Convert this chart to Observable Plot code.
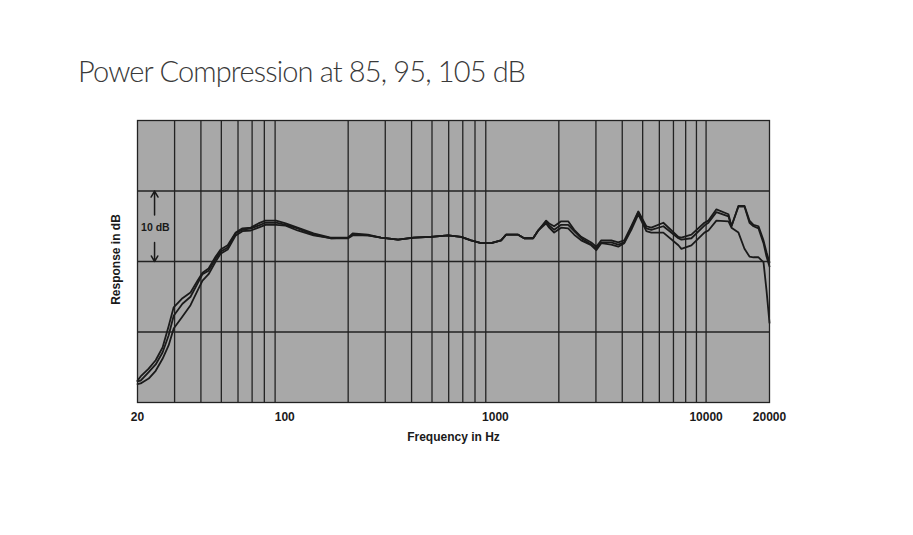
<!DOCTYPE html>
<html><head><meta charset="utf-8">
<script src="https://cdn.jsdelivr.net/npm/d3@7"></script>
<script src="https://cdn.jsdelivr.net/npm/@observablehq/plot@0.6"></script>
<style>
body{margin:0;background:#fff;width:913px;height:535px;overflow:hidden;position:relative;font-family:"Liberation Sans",Arial,sans-serif;}
#title{position:absolute;left:78px;top:56px;font-family:Lato,"Open Sans",sans-serif;font-weight:300;font-size:29px;letter-spacing:-0.85px;color:#3a3a3a;line-height:1;white-space:nowrap;}
#chart{position:absolute;left:0;top:100px;}
</style></head><body>
<div id="title">Power Compression at 85, 95, 105 dB</div>
<div id="chart"></div>
<script>
const titleText = "Power Compression at 85, 95, 105 dB";
const xLabel = "Frequency in Hz";
const yLabel = "Response in dB";
const scaleLabel = "10 dB";

const freq = [20,20.7,22.6,24.4,26.3,28.1,29.7,32.7,35.7,38.6,40.7,43.5,47,49.6,53.6,58.5,63,69,75,81,91,101,115,137,165,200,210,248,286,345,410,494,596,687,766,855,954,1064,1124,1282,1369,1510,1596,1741,1799,1900,2052,2215,2366,2554,2850,3011,3180,3547,3830,4090,4416,4768,5204,5496,6268,7388,7634,8516,9817,10258,11196,12772,13198,14246,15214,16070,16790,17734,18730,19356,20000];

const level85 = [3.1,3.7,4.8,6.0,7.8,10.8,13.5,14.8,15.6,17.3,18.4,19.0,20.7,21.7,22.3,24.1,24.7,24.8,25.4,25.8,25.8,25.4,24.8,24.0,23.4,23.4,24.0,23.8,23.4,23.1,23.4,23.5,23.7,23.5,23.0,22.6,22.6,23.0,23.8,23.8,23.3,23.3,24.4,25.8,25.4,25.0,25.7,25.7,24.5,23.5,22.7,22.1,23.0,23.0,22.7,23.0,25.0,27.1,25.0,24.8,25.5,23.5,23.4,23.8,25.5,25.8,27.4,26.7,25.0,27.9,27.9,25.8,25.2,25.0,23.0,21.3,19.9];
const level95 = [3.0,3.1,4.3,5.4,7.1,9.5,12.3,14.0,15.0,16.9,18.2,18.7,20.4,21.4,22.0,24.0,24.5,24.7,25.1,25.5,25.5,25.2,24.7,23.8,23.3,23.4,23.8,23.7,23.4,23.1,23.4,23.5,23.7,23.5,23.0,22.6,22.6,23.0,23.8,23.8,23.3,23.3,24.4,25.7,25.1,24.5,25.2,25.2,24.3,23.3,22.4,21.8,22.7,22.7,22.4,22.7,24.8,27.0,24.7,24.5,25.0,23.3,23.1,23.3,25.1,25.5,27.0,26.4,25.0,27.8,27.8,25.5,25.0,24.7,22.6,20.7,19.3];
const level105 = [2.6,2.7,3.4,4.5,6.2,8.1,10.5,12.2,13.8,15.9,17.3,18.2,20.0,21.1,21.7,23.7,24.3,24.4,24.8,25.2,25.2,25.1,24.4,23.7,23.3,23.3,23.7,23.7,23.4,23.1,23.4,23.5,23.7,23.5,23.0,22.6,22.6,23.0,23.8,23.8,23.3,23.3,24.4,25.4,24.8,24.1,24.8,24.7,23.8,23.0,22.3,21.6,22.6,22.4,22.1,22.6,24.5,26.7,24.3,24.1,24.1,22.3,21.8,22.3,24.1,24.4,25.8,25.7,24.8,24.1,21.8,20.7,20.6,20.6,19.9,15.9,11.3];

const gridFreqs = [30,40,50,60,70,80,90,200,300,400,500,600,700,800,900,2000,3000,4000,5000,6000,7000,8000,9000,10000];
const gridDb = [10,20,30];
const tickFreqs = [20,100,1000,10000,20000];

const series = [["85 dB", level85], ["95 dB", level95], ["105 dB", level105]];
const rows = series.flatMap(([name, vals]) => freq.map((f, i) => ({f, db: vals[i], name})));

const ink = "#1a1a1a";
const chart = Plot.plot({
  width: 913,
  height: 435,
  marginTop: 20,
  marginBottom: 133,
  marginLeft: 137,
  marginRight: 144,
  style: {fontFamily: "'Liberation Sans', Arial, sans-serif", background: "transparent"},
  x: {type: "log", domain: [20, 20000]},
  y: {domain: [0, 40]},
  marks: [
    Plot.frame({fill: "#a8a8a8", stroke: null}),
    Plot.ruleX(gridFreqs, {stroke: "#222", strokeWidth: 1.3}),
    Plot.ruleY(gridDb, {stroke: "#222", strokeWidth: 1.3}),
    Plot.line(rows, {x: "f", y: "db", z: "name", stroke: ink, strokeWidth: 1.8, strokeLinejoin: "round"}),
    Plot.arrow([{x: 24.1, y1: 26.6, y2: 30}, {x: 24.1, y1: 22.7, y2: 20}], {x1: "x", x2: "x", y1: "y1", y2: "y2", stroke: ink, strokeWidth: 1.5, headLength: 7}),
    Plot.text([scaleLabel], {x: 20.8, y: 24.8, text: d => d, textAnchor: "start", fontSize: 10.5, fontWeight: "bold", fill: ink}),
    Plot.frame({stroke: "#222", strokeWidth: 1.3}),
    Plot.axisX({ticks: tickFreqs, tickFormat: d => String(d), tickSize: 0, tickPadding: 10, fontSize: 12, fontWeight: "bold", label: null, color: ink}),
    Plot.axisY({ticks: [], label: null}),
    Plot.text([xLabel], {frameAnchor: "bottom", dy: 38, text: d => d, fontSize: 12, fontWeight: "bold", fill: ink}),
    Plot.text([yLabel], {frameAnchor: "left", dx: -21, dy: -2, rotate: -90, textAnchor: "middle", text: d => d, fontSize: 12, fontWeight: "bold", fill: ink})
  ]
});
document.getElementById("chart").appendChild(chart);
</script>
</body></html>
